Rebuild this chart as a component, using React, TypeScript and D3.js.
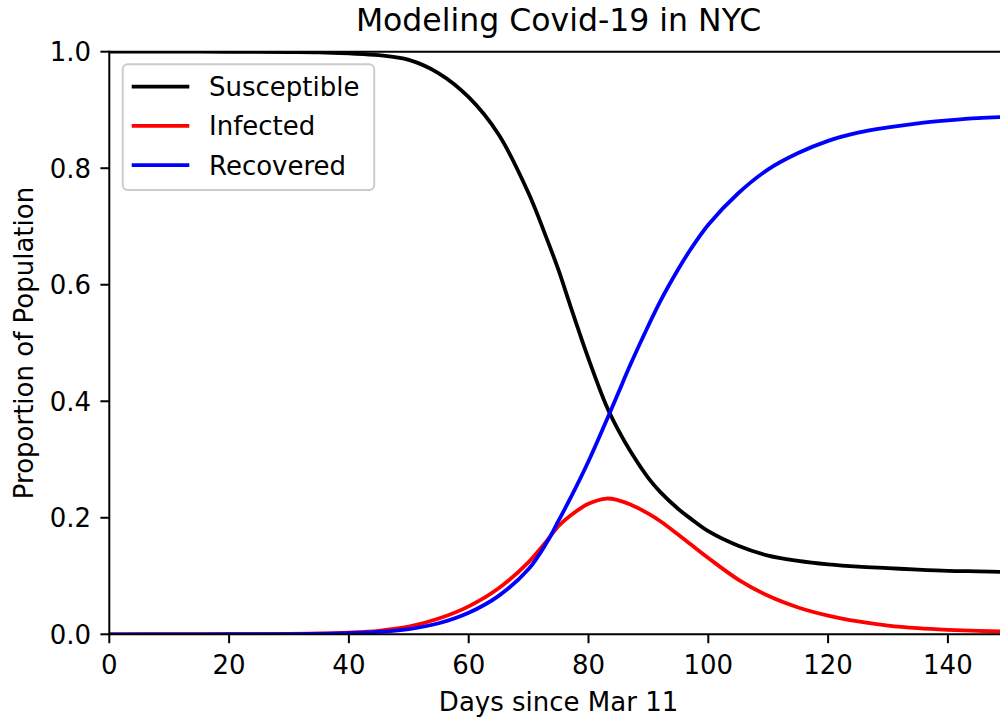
import React from 'react'
import * as d3 from 'd3'

// days since Mar 11 and proportions
const days = [0, 10, 20, 30, 35, 40, 45, 50, 55, 60, 65, 70, 73, 75, 77, 80, 83, 85, 87, 90, 92, 95, 97, 100, 105, 110, 115, 120, 125, 130, 135, 140, 145, 150]
const susceptible = [1.0, 1.0, 0.9999, 0.9995, 0.999, 0.997, 0.994, 0.986, 0.963, 0.922, 0.858, 0.757, 0.68, 0.625, 0.563, 0.473, 0.392, 0.35, 0.314, 0.268, 0.244, 0.215, 0.199, 0.177, 0.152, 0.135, 0.126, 0.12, 0.116, 0.1135, 0.111, 0.109, 0.108, 0.107]
const infected = [0.0, 0.0001, 0.0002, 0.0008, 0.0015, 0.003, 0.006, 0.013, 0.027, 0.048, 0.079, 0.124, 0.16, 0.186, 0.204, 0.224, 0.233, 0.23, 0.223, 0.207, 0.194, 0.171, 0.155, 0.131, 0.094, 0.066, 0.046, 0.032, 0.022, 0.015, 0.0105, 0.0077, 0.0058, 0.0045]
const recovered = [0, 0, 0.0001, 0.0004, 0.0008, 0.002, 0.004, 0.009, 0.019, 0.037, 0.066, 0.112, 0.157, 0.195, 0.234, 0.297, 0.367, 0.415, 0.463, 0.53, 0.572, 0.627, 0.66, 0.703, 0.757, 0.798, 0.826, 0.847, 0.861, 0.87, 0.877, 0.882, 0.886, 0.888]

const seriesNames = ['Susceptible', 'Infected', 'Recovered']
const seriesColors = ['#000000', '#ff0000', '#0000ff']
const xTicks = [0, 20, 40, 60, 80, 100, 120, 140]
const yTicks = [0, 0.2, 0.4, 0.6, 0.8, 1.0]

const width = 1000,
    height = 717
const left = 109.3,
    right = 1007.8,
    top = 51.7,
    bottom = 634.3
const font = 'DejaVu Sans, sans-serif'

const App = () => {
    const x = d3.scaleLinear().domain([0, 150]).range([left, right])
    const y = d3.scaleLinear().domain([0, 1]).range([bottom, top])

    const line = d3.line<[number, number]>()
        .x(d => x(d[0]))
        .y(d => y(d[1]))
        .curve(d3.curveCatmullRom.alpha(0.5))

    const allSeries = [susceptible, infected, recovered]

    return (
        <svg width={width} height={height} style={{ position: 'absolute', left: 0, top: 0, background: '#fff' }} fontFamily={font}>
            <defs>
                <clipPath id="plotclip">
                    <rect x={left} y={top} width={right - left} height={bottom - top} />
                </clipPath>
            </defs>
            <rect x={0} y={0} width={width} height={height} fill="#fff" />

            {/* curves */}
            <g clipPath="url(#plotclip)">
                {allSeries.map((s, i) => (
                    <path key={i} d={line(days.map((d, j) => [d, s[j]]) as [number, number][]) || ''}
                        fill="none" stroke={seriesColors[i]} strokeWidth={3.8} strokeLinejoin="round" strokeLinecap="square" />
                ))}
            </g>

            {/* spines */}
            <line x1={left} x2={left} y1={top} y2={bottom} stroke="#000" strokeWidth={2} strokeLinecap="square" />
            <line x1={left} x2={right} y1={bottom} y2={bottom} stroke="#000" strokeWidth={2} strokeLinecap="square" />
            <line x1={left} x2={right} y1={top} y2={top} stroke="#000" strokeWidth={2} strokeLinecap="square" />
            <line x1={right} x2={right} y1={top} y2={bottom} stroke="#000" strokeWidth={2} />

            {/* x ticks */}
            {xTicks.map(t => (
                <g key={t}>
                    <line x1={x(t)} x2={x(t)} y1={bottom} y2={bottom + 8.9} stroke="#000" strokeWidth={2} />
                    <text x={x(t)} y={674} textAnchor="middle" fontSize={26}>{t}</text>
                </g>
            ))}
            {/* y ticks */}
            {yTicks.map(t => (
                <g key={t}>
                    <line x1={left - 8.9} x2={left} y1={y(t)} y2={y(t)} stroke="#000" strokeWidth={2} />
                    <text x={91} y={y(t) + 9.5} textAnchor="end" fontSize={26}>{t.toFixed(1)}</text>
                </g>
            ))}

            {/* labels */}
            <text x={(left + right) / 2} y={31} textAnchor="middle" fontSize={31.5}>Modeling Covid-19 in NYC</text>
            <text x={(left + right) / 2} y={711} textAnchor="middle" fontSize={26}>Days since Mar 11</text>
            <text transform={`translate(33,${(top + bottom) / 2}) rotate(-90)`} textAnchor="middle" fontSize={26}>Proportion of Population</text>

            {/* legend */}
            <rect x={122.7} y={64.3} width={251.5} height={125.7} rx={5} ry={5} fill="#fff" fillOpacity={0.8} stroke="#cccccc" strokeWidth={2} />
            {seriesNames.map((n, i) => (
                <g key={n}>
                    <line x1={131.7} x2={189.3} y1={86.7 + i * 39.2} y2={86.7 + i * 39.2} stroke={seriesColors[i]} strokeWidth={3.8} />
                    <text x={209} y={86.7 + i * 39.2 + 9.5} fontSize={26}>{n}</text>
                </g>
            ))}
        </svg>
    )
}

export default App
